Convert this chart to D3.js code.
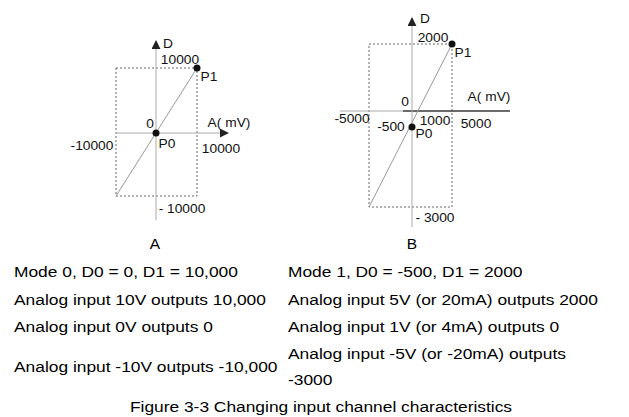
<!DOCTYPE html><html><head><meta charset="utf-8"><script src="https://cdn.jsdelivr.net/npm/d3@7"></script>
<style>body{margin:0;background:#fff}text{font-family:"Liberation Sans",Arial,sans-serif}</style></head><body><svg id="c" width="629" height="417"></svg>
<script>
const chartA = {xDomain:[-10000,0,10000], yDomain:[-10000,0,10000], p0:[0,0], p1:[10000,10000], start:[-10000,-10000]};
const chartB = {xDomain:[-5000,0,5000], yDomain:[-3000,0,2000], p0:[0,-500], p1:[5000,2000], start:[-5000,-3000]};
const titles = ["A","B"];
const linesA = ["Mode 0, D0 = 0, D1 = 10,000","Analog input 10V outputs 10,000","Analog input 0V outputs 0","Analog input -10V outputs -10,000"];
const linesB = ["Mode 1, D0 = -500, D1 = 2000","Analog input 5V (or 20mA) outputs 2000","Analog input 1V (or 4mA) outputs 0","Analog input -5V (or -20mA) outputs","-3000"];
const caption = "Figure 3-3 Changing input channel characteristics";

const svg = d3.select("#c");
function stretch(sel,f){sel.each(function(){const w=this.getComputedTextLength();d3.select(this).attr("textLength",w*f).attr("lengthAdjust","spacingAndGlyphs");});}
svg.append("defs").append("marker").attr("id","ar").attr("viewBox","0 0 10 10").attr("refX",9).attr("refY",5)
 .attr("markerWidth",9).attr("markerHeight",9).attr("markerUnits","userSpaceOnUse").attr("orient","auto")
 .append("path").attr("d","M0,0L10,5L0,10Z").attr("fill","#222");

function draw(c, xr, yr, ax, labels){
  const x=d3.scaleLinear().domain(c.xDomain).range(xr);
  const y=d3.scaleLinear().domain(c.yDomain).range(yr);
  const g=svg.append("g");
  g.append("rect").attr("x",x(c.xDomain[0])).attr("y",y(c.yDomain[2])).attr("width",x(c.xDomain[2])-x(c.xDomain[0]))
   .attr("height",y(c.yDomain[0])-y(c.yDomain[2])).attr("fill","none").attr("stroke","#666").attr("stroke-dasharray","2,2").attr("stroke-width",1);
  g.append("line").attr("x1",ax.hx0).attr("x2",ax.hx1).attr("y1",y(0)).attr("y2",y(0)).attr("stroke","#aaa").attr("marker-end",ax.hBlack?null:"url(#ar)");
  if(ax.hBlack) g.append("line").attr("x1",ax.hBlack).attr("x2",ax.hx1).attr("y1",y(0)).attr("y2",y(0)).attr("stroke","#000").attr("stroke-width",1.2);
  g.append("line").attr("x1",x(0)).attr("x2",x(0)).attr("y1",ax.vy1).attr("y2",ax.vy0).attr("stroke","#aaa").attr("marker-end","url(#ar)");
  g.append("line").attr("x1",x(c.start[0])).attr("y1",y(c.start[1])).attr("x2",x(c.p1[0])).attr("y2",y(c.p1[1])).attr("stroke","#999").attr("stroke-width",1);
  [c.p0,c.p1].forEach(p=>g.append("circle").attr("cx",x(p[0])).attr("cy",y(p[1])).attr("r",3.5).attr("fill","#111"));
  labels.forEach(l=>g.append("text").attr("x",l[1]).attr("y",l[2]).attr("text-anchor","middle").attr("font-size",12.5).attr("fill","#111").text(l[0]).call(stretch,1.1));
}
draw(chartA,[116,156,197],[196,133,68],{hx0:117,hx1:228,vy0:41,vy1:220},
 [["D",168,48],["10000",180,64],["P1",209,81],["0",150,128],["A( mV)",229,127],["-10000",92,150],["P0",167,148],["10000",221,153],["- 10000",182,213]]);
draw(chartB,[369,412,452],[207,111,44],{hx0:340,hx1:510,vy0:18,vy1:227,hBlack:403},
 [["D",425,23],["2000",433,42],["P1",463,57],["0",405,106],["A( mV)",489,101],["-5000",352,123],["-500",391,131],["1000",435,125],["5000",476,128],["P0",424,138],["- 3000",435,222]]);

const t=svg.append("g").attr("fill","#000");
t.append("text").attr("x",155).attr("y",249).attr("text-anchor","middle").attr("font-size",15.5).text(titles[0]);
t.append("text").attr("x",412).attr("y",249).attr("text-anchor","middle").attr("font-size",15.5).text(titles[1]);
const yA=[277,305,332,372], yB=[277,305,332,359,385];
linesA.forEach((s,i)=>t.append("text").attr("x",14).attr("y",yA[i]).attr("font-size",15.5).text(s).call(stretch,1.12));
linesB.forEach((s,i)=>t.append("text").attr("x",288).attr("y",yB[i]).attr("font-size",15.5).text(s).call(stretch,1.12));
t.append("text").attr("x",321).attr("y",412).attr("text-anchor","middle").attr("font-size",15.5).text(caption).call(stretch,1.12);
</script></body></html>
